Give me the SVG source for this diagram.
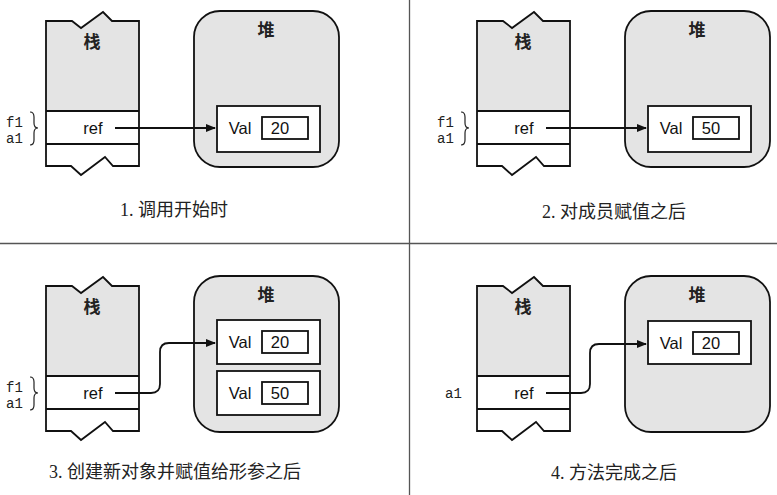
<svg xmlns="http://www.w3.org/2000/svg" width="777" height="495" viewBox="0 0 777 495">
<style>
.bg{fill:#ffffff}
.div{stroke:#555;stroke-width:1.3;fill:none}
.edge{stroke:#111;stroke-width:1.8;fill:none;stroke-linejoin:miter}
.gray{fill:#e4e4e4;stroke:none}
.heap{fill:#e4e4e4;stroke:#111;stroke-width:1.8}
.obj{fill:#fff;stroke:#111;stroke-width:1.8}
.line{stroke:#111;stroke-width:1.8;fill:none}
.conn{stroke:#111;stroke-width:1.8;fill:none}
.brace{stroke:#222;stroke-width:1.2;fill:none}
.cn{font-family:"Noto Sans CJK SC",sans-serif;font-size:17px;font-weight:bold;fill:#222;text-anchor:middle}
.sans{font-family:"Liberation Sans",Arial,sans-serif;font-size:16.5px;fill:#111;text-anchor:middle}
.mono{font-family:"Liberation Mono","DejaVu Sans Mono",monospace;font-size:14px;fill:#222}
.cap{font-family:"Liberation Serif","Noto Sans CJK SC",serif;font-size:18px;fill:#222;text-anchor:middle}
</style>
<defs>
<marker id="ah" markerWidth="10" markerHeight="10" refX="9" refY="5" orient="auto" markerUnits="userSpaceOnUse">
<path d="M0,1 L10,5 L0,9 Z" fill="#111"/>
</marker>
<g id="stackShape">
<path class="gray" d="M46,21 L72,21 L81,28 L103,12 L112,21 L139,21 L139,111 L46,111 Z"/>
<path class="edge" d="M46,21 L72,21 L81,28 L103,12 L112,21 L139,21 L139,166 L113,166 L105,157 L81,175 L71,166 L46,166 Z"/>
<line class="line" x1="46" y1="111" x2="139" y2="111"/>
<line class="line" x1="46" y1="144" x2="139" y2="144"/>
<text class="cn" x="92" y="48">栈</text>
<text class="sans" x="93" y="134">ref</text>
</g>
<g id="heapShape">
<rect class="heap" x="194" y="11" width="145" height="156" rx="26" ry="26"/>
<text class="cn" x="266" y="36">堆</text>
</g>
<g id="braceLabels">
<text class="mono" x="6" y="127">f1</text>
<text class="mono" x="6" y="143">a1</text>
<path class="brace" d="M30,112 Q34,112 34,117 L34,123 Q34,128 38,128 Q34,128 34,133 L34,140 Q34,145 30,145"/>
</g>
</defs>
<rect class="bg" x="0" y="0" width="777" height="495"/>
<g id="dividers">
<line class="div" x1="409.5" y1="0" x2="409.5" y2="495"/>
<line class="div" x1="0" y1="243.5" x2="777" y2="243.5"/>
</g>

<g id="panel1">
<g id="p1-stack"><use href="#stackShape"/><use href="#braceLabels"/></g>
<g id="p1-heap"><use href="#heapShape"/></g>
<g id="p1-val">
<rect class="obj" x="217" y="106" width="103" height="46"/>
<rect class="obj" x="262" y="117" width="46" height="22"/>
<text class="sans" x="240" y="134">Val</text>
<text class="sans" x="280" y="134">20</text>
</g>
<text class="cap" x="174" y="216">1. 调用开始时</text>
</g>

<g id="panel2" transform="translate(431,0)">
<g id="p2-stack"><use href="#stackShape"/><use href="#braceLabels"/></g>
<g id="p2-heap"><use href="#heapShape"/></g>
<g id="p2-val">
<rect class="obj" x="217" y="106" width="103" height="46"/>
<rect class="obj" x="262" y="117" width="46" height="22"/>
<text class="sans" x="240" y="134">Val</text>
<text class="sans" x="280" y="134">50</text>
</g>
<text class="cap" x="183" y="218">2. 对成员赋值之后</text>
</g>

<g id="panel3" transform="translate(0,265)">
<g id="p3-stack"><use href="#stackShape"/><use href="#braceLabels"/></g>
<g id="p3-heap"><use href="#heapShape"/></g>
<g id="p3-val1">
<rect class="obj" x="217" y="55" width="103" height="44"/>
<rect class="obj" x="262" y="66" width="46" height="22"/>
<text class="sans" x="240" y="83">Val</text>
<text class="sans" x="280" y="83">20</text>
</g>
<g id="p3-val2">
<rect class="obj" x="217" y="106" width="103" height="44"/>
<rect class="obj" x="262" y="117" width="46" height="22"/>
<text class="sans" x="240" y="134">Val</text>
<text class="sans" x="280" y="134">50</text>
</g>
<text class="cap" x="175" y="213">3. 创建新对象并赋值给形参之后</text>
</g>

<g id="panel4" transform="translate(431,265)">
<g id="p4-stack"><use href="#stackShape"/>
<text class="mono" x="14" y="133">a1</text></g>
<g id="p4-heap"><use href="#heapShape"/></g>
<g id="p4-val">
<rect class="obj" x="217" y="56" width="103" height="43"/>
<rect class="obj" x="262" y="67" width="46" height="22"/>
<text class="sans" x="240" y="84">Val</text>
<text class="sans" x="280" y="84">20</text>
</g>
<text class="cap" x="183" y="214">4. 方法完成之后</text>
</g>

<g id="connectors">
<path class="conn" marker-end="url(#ah)" d="M115,128 L215,128"/>
<path class="conn" marker-end="url(#ah)" d="M546,128 L646,128"/>
<path class="conn" marker-end="url(#ah)" d="M115,393 L151,393 Q160,393 160,384 L160,352 Q160,343 169,343 L215,343"/>
<path class="conn" marker-end="url(#ah)" d="M546,393 L581,393 Q590,393 590,384 L590,353 Q590,344 599,344 L646,344"/>
</g>
</svg>
